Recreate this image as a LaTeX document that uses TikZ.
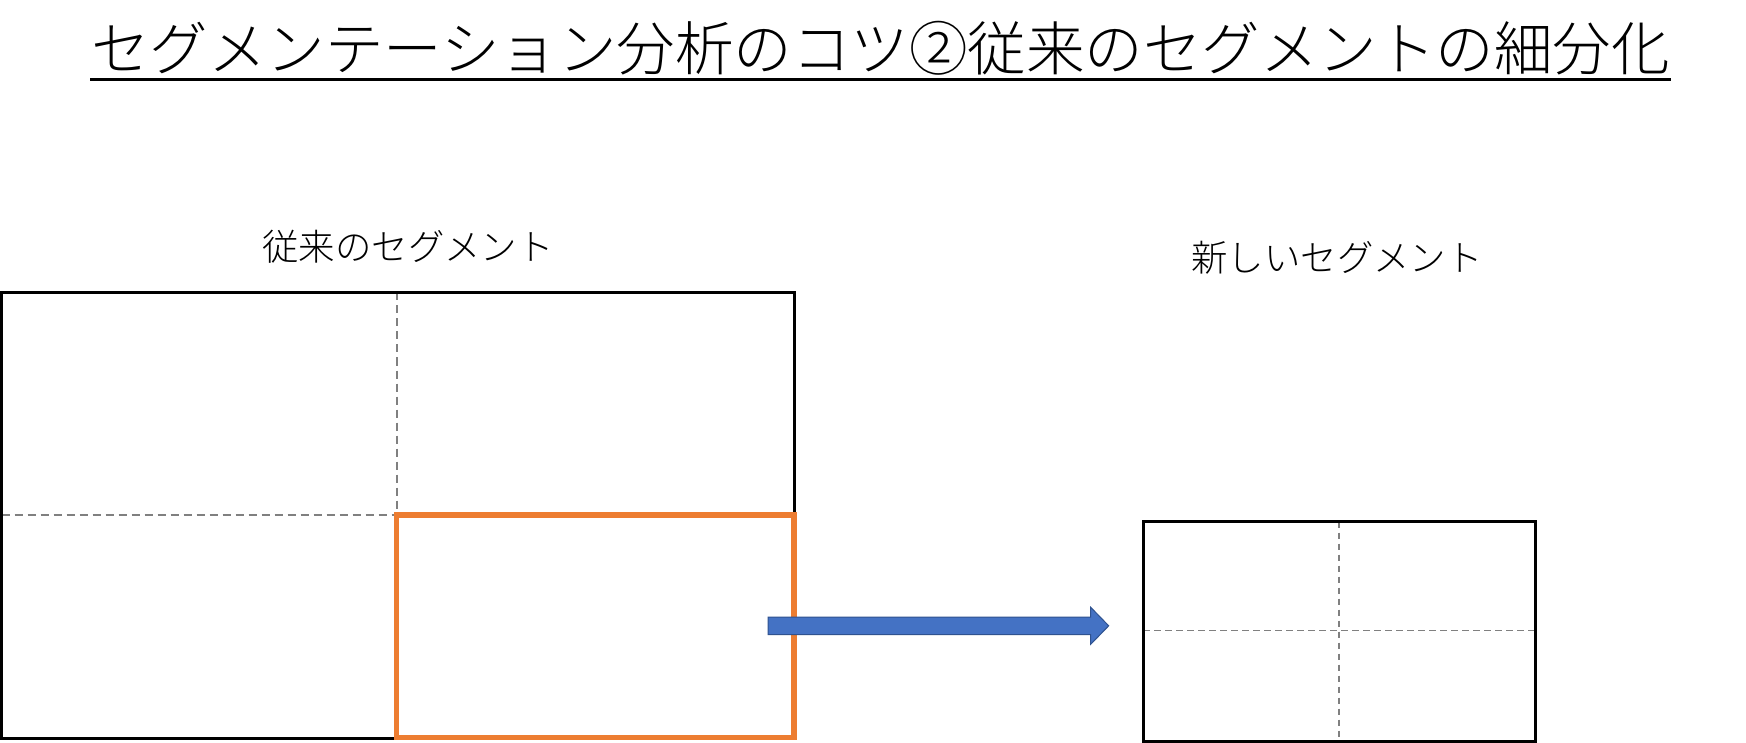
\documentclass[tikz,border=0pt]{standalone}
\usepackage{fontspec}
\newfontfamily\jp{Noto Sans CJK JP Light}
\usetikzlibrary{calc}
\definecolor{orangeC}{HTML}{ED7D31}
\definecolor{blueF}{HTML}{4472C4}
\definecolor{blueS}{HTML}{2F528F}
\definecolor{grayD}{HTML}{808080}
\tikzset{
  x=1pt,y=-1pt,
  blackbox/.style={draw=black,line width=3pt},
  divider/.style={draw=grayD,line width=1.6pt,dash pattern=on 8pt off 5pt},
  smalldivider/.style={draw=grayD,line width=1.5pt,dash pattern=on 6.5pt off 4.5pt},
  focusbox/.style={draw=orangeC,line width=5.3pt},
  bigarrow/.style={fill=blueF,draw=blueS,line width=1pt,line join=miter},
  titletext/.style={inner sep=0pt,font=\jp\fontsize{58.5}{60}\selectfont},
  labeltext/.style={inner sep=0pt,font=\jp\fontsize{36.4}{40}\selectfont},
}
\begin{document}
\begin{tikzpicture}
\useasboundingbox (0,0) rectangle (1746,743);
\fill[white] (0,0) rectangle (1746,743);
% title
\node[titletext] (title) at (880.5,48) {セグメンテーション分析のコツ②従来のセグメントの細分化};
\coordinate (ulL) at (90,79.3);
\coordinate (ulR) at (1670.7,79.3);
\draw[line width=3pt] (ulL) -- (ulR);
% labels
\node[labeltext] (oldlabel) at (408,247) {従来のセグメント};
\node[labeltext] (newlabel) at (1337,258) {新しいセグメント};
% old segment box
\coordinate (oTL) at (1.5,292.5);
\coordinate (oBR) at (794.3,738.3);
\coordinate (oMidTop) at (396.7,292.5);
\coordinate (oMid) at (396.7,515);
\coordinate (oMidLeft) at (1.5,515);
\draw[divider] (oMidTop) -- (oMid);
\draw[divider] (oMidLeft) -- (oMid);
\draw[blackbox] (oTL) rectangle (oBR);
% focused sub-segment
\coordinate (fTL) at (396.7,515);
\coordinate (fBR) at (794,737.7);
\draw[focusbox] (fTL) rectangle (fBR);
% arrow
\draw[bigarrow] (768,617.2) -- (1090.7,617.2) -- (1090.7,607.3) -- (1108.7,625.8)
  -- (1090.7,644.3) -- (1090.7,634.5) -- (768,634.5) -- cycle;
% new segment box
\coordinate (nTL) at (1143.3,521.7);
\coordinate (nBR) at (1535.7,741);
\coordinate (nVT) at (1339,521.7);
\coordinate (nVB) at (1339,741);
\coordinate (nHL) at (1143.3,630.7);
\coordinate (nHR) at (1535.7,630.7);
\draw[smalldivider] (nVT) -- (nVB);
\draw[smalldivider] (nHL) -- (nHR);
\draw[blackbox] (nTL) rectangle (nBR);
\end{tikzpicture}
\end{document}
